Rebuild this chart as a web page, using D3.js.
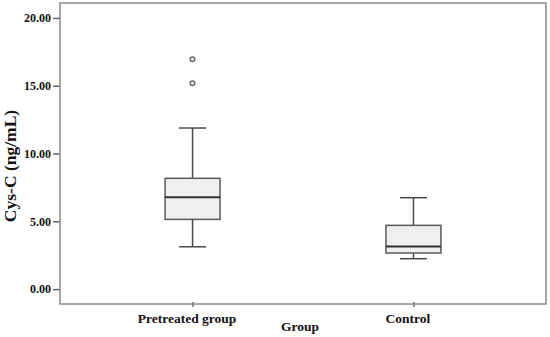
<!DOCTYPE html>
<html>
<head>
<meta charset="utf-8">
<script src="https://cdn.jsdelivr.net/npm/d3@7"></script>
<style>
  body { margin: 0; background: #fff; }
  text { font-family: "Liberation Serif", "DejaVu Serif", serif; font-weight: bold; fill: #111; }
</style>
</head>
<body>
<div id="vis"></div>
<script>
// data
var groups = ['Pretreated group', 'Control'];
var whiskerLow = [3.12, 2.24];
var q1 = [5.14, 2.66];
var median = [6.77, 3.15];
var q3 = [8.17, 4.70];
var whiskerHigh = [11.88, 6.74];
var outliers = [[16.95, 15.18], []];
var yTicks = [0, 5, 10, 15, 20];

var width = 550, height = 337;
var frame = { left: 60, right: 546, top: 3, bottom: 304 };

var svg = d3.select('#vis').append('svg')
  .attr('width', width)
  .attr('height', height);

var y = d3.scaleLinear()
  .domain([-1.1, 21.1])
  .range([frame.bottom, frame.top]);

var x = d3.scalePoint()
  .domain(groups)
  .range([frame.left, frame.right])
  .padding(0.6);

var boxW = 55, capW = 27;
var lineCol = '#4a4a4a';

// y axis ticks + labels
var yAxis = d3.axisLeft(y)
  .tickValues(yTicks)
  .tickSize(7)
  .tickPadding(2)
  .tickFormat(d3.format('.2f'));
var ya = svg.append('g')
  .attr('transform', 'translate(' + frame.left + ',0)')
  .call(yAxis);
ya.select('.domain').remove();
ya.selectAll('line').attr('stroke', '#666').attr('stroke-width', 1.5);
ya.selectAll('text').attr('font-size', 12).style('font-family', '"Liberation Serif", serif').attr('fill', '#111');

// x axis ticks + labels
var xAxis = d3.axisBottom(x).tickSize(3).tickPadding(6);
var xa = svg.append('g')
  .attr('transform', 'translate(0,' + frame.bottom + ')')
  .call(xAxis);
xa.select('.domain').remove();
xa.selectAll('line').attr('stroke', '#666').attr('stroke-width', 1.5).attr('y1', -2);
xa.selectAll('text').attr('font-size', 13.5).attr('dx', -6).attr('fill', '#111')
  .style('font-family', '"Liberation Serif", serif');

// frame
svg.append('rect')
  .attr('x', frame.left)
  .attr('y', frame.top)
  .attr('width', frame.right - frame.left)
  .attr('height', frame.bottom - frame.top)
  .attr('fill', 'none')
  .attr('stroke', '#8a8a8a')
  .attr('stroke-width', 1.5);

// boxes
var box = svg.selectAll('.box')
  .data(groups)
  .enter().append('g')
  .attr('class', 'box');

box.append('line')
  .attr('x1', function(d) { return x(d); })
  .attr('x2', function(d) { return x(d); })
  .attr('y1', function(d, i) { return y(whiskerHigh[i]); })
  .attr('y2', function(d, i) { return y(whiskerLow[i]); })
  .attr('stroke', lineCol).attr('stroke-width', 1.5);

box.selectAll('.cap')
  .data(function(d, i) { return [whiskerLow[i], whiskerHigh[i]].map(function(v) { return { g: d, v: v }; }); })
  .enter().append('line')
  .attr('class', 'cap')
  .attr('x1', function(d) { return x(d.g) - capW / 2; })
  .attr('x2', function(d) { return x(d.g) + capW / 2; })
  .attr('y1', function(d) { return y(d.v); })
  .attr('y2', function(d) { return y(d.v); })
  .attr('stroke', lineCol).attr('stroke-width', 1.5);

box.append('rect')
  .attr('x', function(d) { return x(d) - boxW / 2; })
  .attr('y', function(d, i) { return y(q3[i]); })
  .attr('width', boxW)
  .attr('height', function(d, i) { return y(q1[i]) - y(q3[i]); })
  .attr('fill', '#efefef')
  .attr('stroke', '#5a5a5a').attr('stroke-width', 1.5);

box.append('line')
  .attr('x1', function(d) { return x(d) - boxW / 2; })
  .attr('x2', function(d) { return x(d) + boxW / 2; })
  .attr('y1', function(d, i) { return y(median[i]); })
  .attr('y2', function(d, i) { return y(median[i]); })
  .attr('stroke', '#333').attr('stroke-width', 2);

box.selectAll('.outlier')
  .data(function(d, i) { return outliers[i].map(function(v) { return { g: d, v: v }; }); })
  .enter().append('circle')
  .attr('class', 'outlier')
  .attr('cx', function(d) { return x(d.g); })
  .attr('cy', function(d) { return y(d.v); })
  .attr('r', 2.3)
  .attr('fill', '#fff')
  .attr('stroke', '#666').attr('stroke-width', 1.5);

// axis titles
svg.append('text')
  .attr('x', 300)
  .attr('y', 331)
  .attr('text-anchor', 'middle')
  .attr('font-size', 13.5)
  .text('Group');

svg.append('text')
  .attr('transform', 'translate(16,166) rotate(-90)')
  .attr('text-anchor', 'middle')
  .attr('font-size', 17.5)
  .text('Cys-C (ng/mL)');
</script>
</body>
</html>
